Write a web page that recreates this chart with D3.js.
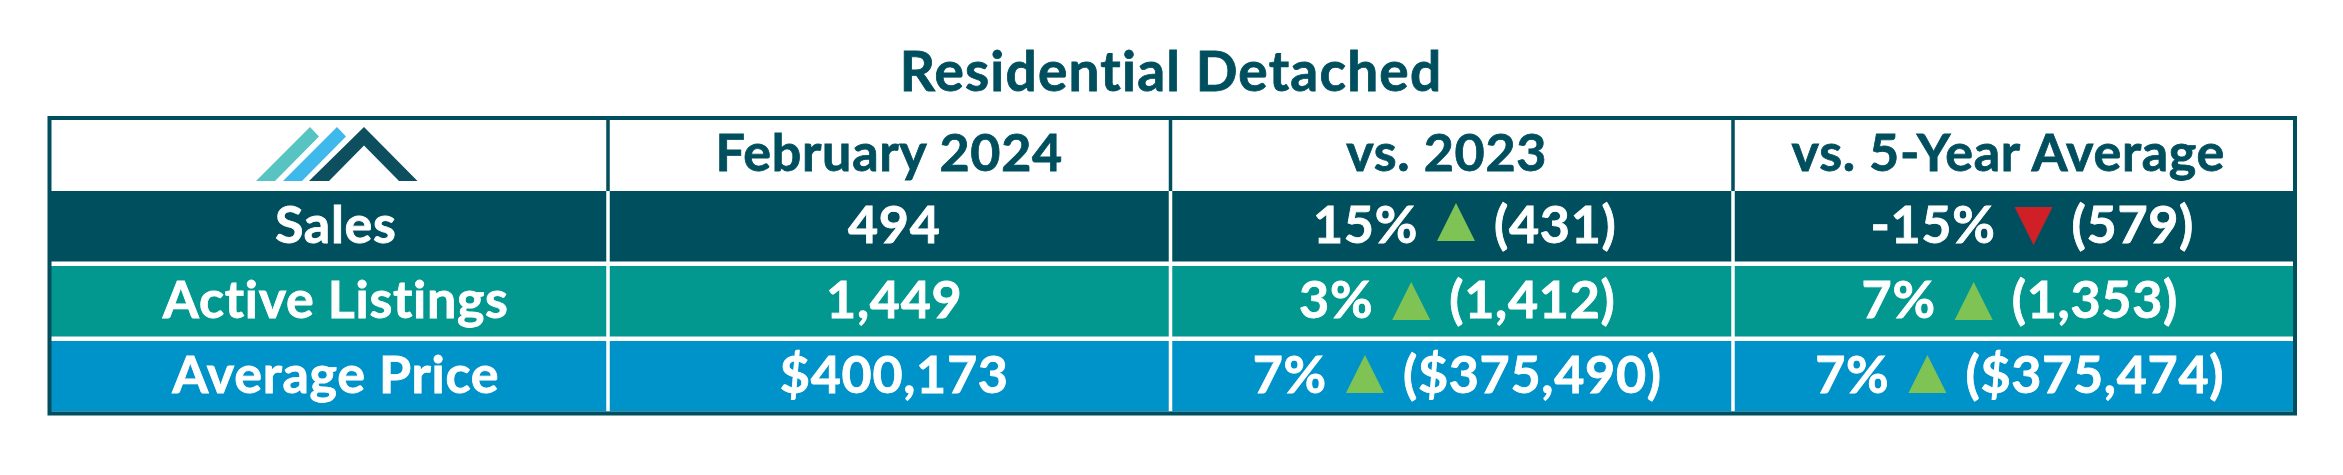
<!DOCTYPE html>
<html>
<head>
<meta charset="utf-8">
<script src="https://cdn.jsdelivr.net/npm/d3@7"></script>
<style>
  html, body { margin: 0; background: #fff; }
  svg { display: block; }
  text { font-family: Lato, sans-serif; font-weight: 700; font-size: 52px; letter-spacing: 0.7px; stroke-width: 0.8px; }
</style>
</head>
<body>
<div id="graf"></div>
<script>
// I. Datos
const titulo = 'Residential Detached'
const columnas = ['logo', 'February 2024', 'vs. 2023', 'vs. 5-Year Average']
const filas = ['Sales', 'Active Listings', 'Average Price']
const actual = [494, 1449, 400173]
const pct2023 = [15, 3, 7]
const previo2023 = [431, 1412, 375490]
const pct5y = [-15, 7, 7]
const previo5y = [579, 1353, 375474]

// II. Configuración
const ancho_total = 2343, alto_total = 475
const oscuro = '#004f5e', blanco = '#fff'
const colorFila = d3.scaleOrdinal().domain(filas).range(['#004f5e', '#029890', '#0093c9'])

const svg = d3.select('#graf').append('svg')
  .attr('width', ancho_total)
  .attr('height', alto_total)

const x = d3.scaleBand().domain(columnas).range([45.5, 2295.5])
const y = d3.scaleBand().domain(['header', ...filas]).range([116, 411.5]).paddingInner(0.06)

const izquierda = 49.5, derecha = 2295
const formatos = [d3.format(','), d3.format(','), d3.format('$,')]

// III. Título
svg.append('text')
  .attr('x', 1171)
  .attr('y', 91)
  .attr('text-anchor', 'middle')
  .style('font-size', '55px')
  .style('letter-spacing', '1.2px')
  .attr('fill', oscuro)
  .attr('stroke', oscuro)
  .text(titulo)

// IV. Filas
svg.selectAll('rect.fila')
  .data(filas)
  .join('rect')
    .attr('class', 'fila')
    .attr('x', izquierda)
    .attr('y', d => y(d))
    .attr('width', derecha - izquierda)
    .attr('height', y.bandwidth())
    .attr('fill', d => colorFila(d))

// separadores
const separadores = columnas.slice(1).map(c => x(c))
svg.selectAll('line.sep-h')
  .data(separadores)
  .join('line')
    .attr('class', 'sep-h')
    .attr('x1', d => d).attr('x2', d => d)
    .attr('y1', y('header')).attr('y2', y('Sales'))
    .attr('stroke', oscuro).attr('stroke-width', 3.5)
svg.selectAll('line.sep-b')
  .data(separadores)
  .join('line')
    .attr('class', 'sep-b')
    .attr('x1', d => d).attr('x2', d => d)
    .attr('y1', y('Sales')).attr('y2', y('Average Price') + y.bandwidth())
    .attr('stroke', blanco).attr('stroke-width', 3.5)

// borde exterior
svg.append('rect')
  .attr('x', izquierda)
  .attr('y', 118)
  .attr('width', derecha - izquierda)
  .attr('height', 295.5)
  .attr('fill', 'none')
  .attr('stroke', oscuro)
  .attr('stroke-width', 4)

// V. Encabezados
const ajusteEnc = [0, -5, -6]
svg.selectAll('text.enc')
  .data(columnas.slice(1))
  .join('text')
    .attr('class', 'enc')
    .attr('x', (d, i) => x(d) + x.bandwidth() / 2 + ajusteEnc[i])
    .attr('y', y('header') + 55)
    .attr('text-anchor', 'middle')
    .attr('fill', oscuro)
    .attr('stroke', oscuro)
    .text(d => d)

// logo
const lado = 54
const logo = svg.append('g').attr('transform', `translate(256, 127)`)
const linea = d3.line()
logo.append('path')
  .attr('d', linea([[0, lado], [19, lado], [63, 9.5], [54, 0]]) + 'Z')
  .attr('fill', '#58c4c1')
logo.append('path')
  .attr('d', linea([[27, lado], [46, lado], [90, 9.5], [81, 0]]) + 'Z')
  .attr('fill', '#3fb8ec')
logo.append('path')
  .attr('d', linea([[53, lado], [73, lado], [108, 18.5], [143, lado], [161.5, lado], [108, 0]]) + 'Z')
  .attr('fill', '#0e4f5f')

// VI. Celdas
const baseFila = d => y(d) + 51.5
const celdaTexto = fila => svg.append('text')
  .attr('y', baseFila(fila))
  .attr('fill', blanco)
  .attr('stroke', blanco)

const ajusteTri = [12, 16, 14]

filas.forEach((fila, i) => {
  celdaTexto(fila).attr('x', x('logo') + x.bandwidth() / 2 + 9).attr('text-anchor', 'middle').text(fila)
  celdaTexto(fila).attr('x', x('February 2024') + x.bandwidth() / 2 + 5).attr('text-anchor', 'middle').text(formatos[i](actual[i]))

  ;[['vs. 2023', pct2023, previo2023, 13], ['vs. 5-Year Average', pct5y, previo5y, 18]].forEach(([col, pcts, previos, extraVentas]) => {
    const ancho_tri = 38, alto_tri = 38, hueco = 19
    const izq = celdaTexto(fila).text(pcts[i] + '%')
    const der = celdaTexto(fila).text('(' + formatos[i](previos[i]) + ')')
    const wi = izq.node().getComputedTextLength()
    const wd = der.node().getComputedTextLength()
    const total = wi + hueco + ancho_tri + hueco + wd
    const inicio = x(col) + x.bandwidth() / 2 - total / 2 + (i == 0 ? extraVentas : 5.5)
    izq.attr('x', inicio)
    const tx = inicio + wi + hueco
    der.attr('x', tx + ancho_tri + hueco)
    const sube = pcts[i] >= 0
    const p = d3.path()
    const tope = y(fila) + (sube ? ajusteTri[i] : 16)
    p.moveTo(tx, sube ? tope + alto_tri : tope)
    p.lineTo(tx + ancho_tri, sube ? tope + alto_tri : tope)
    p.lineTo(tx + ancho_tri / 2, sube ? tope : tope + alto_tri)
    p.closePath()
    svg.append('path').attr('d', p.toString()).attr('fill', sube ? '#7fc355' : '#cf2027')
  })
})
</script>
</body>
</html>
